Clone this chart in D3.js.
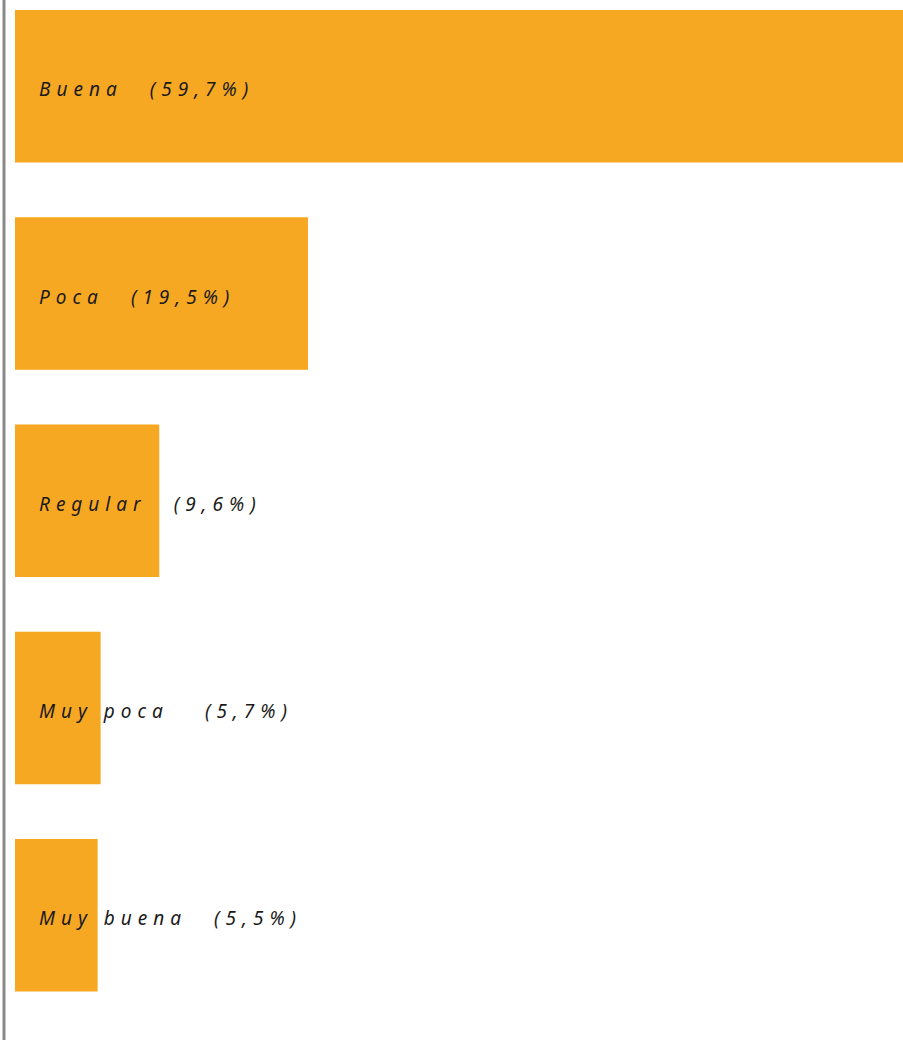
<!DOCTYPE html>
<html>
<head>
<meta charset="utf-8">
<script src="https://cdn.jsdelivr.net/npm/d3@7"></script>
<style>
  body { margin: 0; background: #fff; }
  .lbl { font-family: "Noto Sans", sans-serif; font-style: italic; font-weight: 400; font-size: 19px; fill: #1a1a1a; letter-spacing: 6px; }
</style>
</head>
<body>
<div id="chart"></div>
<script>
// data
const categories = ['Buena', 'Poca', 'Regular', 'Muy poca', 'Muy buena'];
const values = [59.7, 19.5, 9.6, 5.7, 5.5];
const valueLabels = ['(59,7%)', '(19,5%)', '(9,6%)', '(5,7%)', '(5,5%)'];

const svgwidth = 903;
const svgheight = 1040;

const svg = d3.select('#chart').append('svg')
    .attr('width', svgwidth).attr('height', svgheight);

// left axis line
svg.append('line')
    .attr('x1', 4).attr('x2', 4)
    .attr('y1', 0).attr('y2', svgheight)
    .attr('stroke', '#888').attr('stroke-width', 3);

const x = d3.scaleLinear()
    .domain([0, 59.7])
    .range([15, 912]);

const y = d3.scaleBand()
    .domain(categories)
    .range([10, 991.5])
    .paddingInner(0.264)
    .paddingOuter(0);

const rows = categories.map((c, i) => ({ cat: c, v: values[i], lab: valueLabels[i] }));

svg.selectAll('rect.bar')
    .data(rows).enter()
    .append('rect')
    .attr('class', 'bar')
    .attr('x', x(0))
    .attr('y', d => y(d.cat))
    .attr('width', d => x(d.v) - x(0))
    .attr('height', y.bandwidth())
    .attr('fill', '#f7a823');

const txt = svg.selectAll('text.lbl')
    .data(rows).enter()
    .append('text')
    .attr('class', 'lbl')
    .attr('x', 39)
    .attr('y', d => y(d.cat) + y.bandwidth() / 2 + 10);

txt.append('tspan').text(d => d.cat);
txt.append('tspan')
    .attr('dx', d => d.cat === 'Muy poca' ? 36 : 27)
    .text(d => d.lab);
</script>
</body>
</html>
